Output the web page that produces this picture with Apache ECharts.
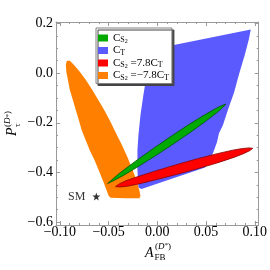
<!DOCTYPE html>
<html><head><meta charset="utf-8">
<script src="https://cdn.jsdelivr.net/npm/echarts@6/dist/echarts.min.js"></script>
<style>html,body{margin:0;padding:0;background:#fff}#c{width:270px;height:270px}</style>
</head><body><div id="c"></div>
<script>
// ---- data ----
const xRange = [-0.104, 0.104];
const yRange = [-0.612, 0.206];
const xMajorTicks = [-0.1, -0.05, 0, 0.05, 0.1];
const xMinorTicks = [-0.09, -0.08, -0.07, -0.06, -0.04, -0.03, -0.02, -0.01, 0.01, 0.02, 0.03, 0.04, 0.06, 0.07, 0.08, 0.09];
const yMajorTicks = [-0.6, -0.4, -0.2, 0, 0.2];
const yMinorTicks = [-0.55, -0.5, -0.45, -0.35, -0.3, -0.25, -0.15, -0.1, -0.05, 0.05, 0.1, 0.15];

// C_T allowed region (blue)
const ctRegion = [
  [-0.0071, 0.0945], [0.0959, 0.1757], [0.0939, 0.1351], [0.0898, 0.0742], [0.0837, -0.0069],
  [0.0786, -0.0799], [0.0724, -0.1489], [0.0673, -0.2097], [0.0633, -0.2422], [0.0612, -0.2787],
  [0.0571, -0.3233], [0.0531, -0.3517], [0.0490, -0.3801], [-0.0163, -0.4673], [-0.0194, -0.4613],
  [-0.0204, -0.3923], [-0.0204, -0.3112], [-0.0194, -0.2503], [-0.0173, -0.1692], [-0.0143, -0.0880],
  [-0.0112, -0.0150], [-0.0092, 0.0458]
];
// C_S2 = -7.8 C_T region (orange)
const cs2MinusRegion = [
  [-0.0929, 0.0499], [-0.0898, 0.0499], [-0.0857, 0.0337], [-0.0796, 0.0053], [-0.0735, -0.0272],
  [-0.0673, -0.0637], [-0.0612, -0.1043], [-0.0551, -0.1448], [-0.0490, -0.1894], [-0.0429, -0.2381],
  [-0.0367, -0.2868], [-0.0306, -0.3395], [-0.0255, -0.3882], [-0.0214, -0.4329], [-0.0184, -0.4734],
  [-0.0173, -0.4937], [-0.0184, -0.5039], [-0.0337, -0.5039], [-0.0480, -0.5018], [-0.0500, -0.4937],
  [-0.0520, -0.4734], [-0.0551, -0.4410], [-0.0592, -0.4004], [-0.0643, -0.3517], [-0.0694, -0.3112],
  [-0.0735, -0.2706], [-0.0776, -0.2300], [-0.0806, -0.1894], [-0.0837, -0.1489], [-0.0867, -0.1083],
  [-0.0898, -0.0677], [-0.0918, -0.0272], [-0.0934, 0.0053], [-0.0939, 0.0337]
];
// C_S2 region (green)
const cs2Region = [
  [-0.0510, -0.4450], [-0.0455, -0.4256], [-0.0376, -0.3998], [-0.0224, -0.3548], [-0.0045, -0.3047],
  [0.0136, -0.2559], [0.0319, -0.2085], [0.0469, -0.1721], [0.0596, -0.1434], [0.0662, -0.1308],
  [0.0704, -0.1245], [0.0673, -0.1375], [0.0618, -0.1570], [0.0502, -0.1924], [0.0360, -0.2329],
  [0.0179, -0.2816], [-0.0004, -0.3290], [-0.0190, -0.3751], [-0.0353, -0.4133], [-0.0444, -0.4324]
];
// C_S2 = 7.8 C_T region (red)
const cs2PlusRegion = [
  [-0.0429, -0.4572], [-0.0391, -0.4463], [-0.0323, -0.4339], [-0.0213, -0.4185], [-0.0018, -0.3941],
  [0.0192, -0.3695], [0.0403, -0.3459], [0.0616, -0.3244], [0.0773, -0.3105], [0.0874, -0.3037],
  [0.0941, -0.3014], [0.0980, -0.3030], [0.0948, -0.3124], [0.0888, -0.3240], [0.0792, -0.3387],
  [0.0639, -0.3588], [0.0429, -0.3835], [0.0218, -0.4062], [0.0006, -0.4278], [-0.0193, -0.4466],
  [-0.0308, -0.4558], [-0.0382, -0.4588]
];
const smPoint = [[-0.0626, -0.497]];
const legendNames = ['CS2', 'CT', 'CS2p', 'CS2m'];
const legendRich = {
  CS2: '{c|C}{s|S}{ss|2}',
  CT: '{c|C}{s|T}',
  CS2p: '{c|C}{s|S}{ss|2}{c| =7.8C}{s|T}',
  CS2m: '{c|C}{s|S}{ss|2}{c| =\u22127.8C}{s|T}'
};

// ---- chart ----
const SERIF = 'Liberation Serif';
const FRAME = '#9a9a9a';
const fmtX = v => (v < -1e-9 ? '\u2212' : '') + Math.abs(v).toFixed(2);
const fmtY = v => (v < -1e-9 ? '\u2212' : '') + Math.abs(v).toFixed(1);

function xAx(pos, ticks, len, withLabel, lineShow) {
  return {
    type: 'value', position: pos, min: xRange[0], max: xRange[1],
    axisLine: { show: lineShow, onZero: false, lineStyle: { color: FRAME, width: 1 } },
    splitLine: { show: false },
    axisTick: { show: true, inside: true, length: len, customValues: ticks, lineStyle: { color: FRAME, width: 1 } },
    axisLabel: withLabel ? { show: true, customValues: ticks, formatter: fmtX, color: '#000', fontFamily: SERIF, fontSize: 14, margin: 0 } : { show: false }
  };
}
function yAx(pos, ticks, len, withLabel, lineShow) {
  return {
    type: 'value', position: pos, min: yRange[0], max: yRange[1],
    axisLine: { show: lineShow, onZero: false, lineStyle: { color: FRAME, width: 1 } },
    splitLine: { show: false },
    axisTick: { show: true, inside: true, length: len, customValues: ticks, lineStyle: { color: FRAME, width: 1 } },
    axisLabel: withLabel ? { show: true, customValues: ticks, formatter: fmtY, color: '#000', fontFamily: SERIF, fontSize: 14, margin: 3 } : { show: false }
  };
}
function polySeries(name, pts, fill, stroke, lw) {
  return {
    type: 'custom', name: name, coordinateSystem: 'cartesian2d', xAxisIndex: 0, yAxisIndex: 0,
    data: pts,
    itemStyle: { color: fill },
    animation: false, silent: true,
    renderItem: function (params, api) {
      if (params.dataIndex !== 0) return null;
      return {
        type: 'polygon',
        shape: { points: pts.map(p => api.coord(p)) },
        style: { fill: fill, stroke: stroke || null, lineWidth: lw || 0 }
      };
    }
  };
}

const chart = echarts.init(document.getElementById('c'), null, { renderer: 'canvas' });
chart.setOption({
  animation: false,
  backgroundColor: '#fff',
  grid: { left: 56, right: 10, top: 22, bottom: 45, containLabel: false },
  xAxis: [
    xAx('bottom', xMajorTicks, 4, true, true),
    xAx('bottom', xMinorTicks, 2, false, false),
    xAx('top', xMajorTicks, 4, false, true),
    xAx('top', xMinorTicks, 2, false, false)
  ],
  yAxis: [
    yAx('left', yMajorTicks, 4, true, true),
    yAx('left', yMinorTicks, 2, false, false),
    yAx('right', yMajorTicks, 4, false, true),
    yAx('right', yMinorTicks, 2, false, false)
  ],
  legend: {
    show: true, orient: 'vertical', left: 96, top: 28,
    data: legendNames,
    icon: 'rect', itemWidth: 10, itemHeight: 7, itemGap: 0.5,
    padding: [4, 3, 2, 2],
    backgroundColor: '#fff', borderColor: '#808080', borderWidth: 1,
    shadowColor: '#444', shadowBlur: 0, shadowOffsetX: 2, shadowOffsetY: 2,
    selectedMode: false,
    formatter: n => legendRich[n],
    textStyle: {
      fontFamily: SERIF, color: '#000', fontSize: 11,
      rich: {
        c: { fontFamily: SERIF, fontSize: 11, lineHeight: 11, color: '#000' },
        s: { fontFamily: SERIF, fontSize: 8, lineHeight: 7, padding: [4, 0, 0, 0], color: '#000' },
        ss: { fontFamily: SERIF, fontSize: 6, lineHeight: 5, padding: [6, 0, 0, 0], color: '#000' }
      }
    }
  },
  series: [
    polySeries('CT', ctRegion, '#5a5aff', null, 0),
    polySeries('CS2m', cs2MinusRegion, '#ff8000', null, 0),
    polySeries('CS2', cs2Region, '#00aa00', '#005500', 0.8),
    polySeries('CS2p', cs2PlusRegion, '#ff0000', '#8b0000', 0.8),
    {
      type: 'scatter', name: 'SM', data: smPoint, xAxisIndex: 0, yAxisIndex: 0,
      symbol: 'path://M0,-10L2.35,-3.24L9.51,-3.09L3.8,1.24L5.88,8.09L0,4L-5.88,8.09L-3.8,1.24L-9.51,-3.09L-2.35,-3.24Z',
      symbolSize: 8, itemStyle: { color: '#000' }, silent: true,
      label: { show: true, position: 'left', distance: 7, formatter: 'SM', color: '#000', fontFamily: SERIF, fontSize: 12 }
    }
  ],
  graphic: [
    { type: 'text', left: 145, top: 246, style: { text: 'A', font: 'italic 14px "Liberation Serif"', fill: '#000' } },
    { type: 'text', left: 154.5, top: 253, style: { text: 'FB', font: '9px "Liberation Serif"', fill: '#000' } },
    { type: 'text', left: 155, top: 242, style: { text: '({i|D}{st|*})', font: '9px "Liberation Serif"', fill: '#000',
        rich: { i: { fontFamily: SERIF, fontSize: 9, fontStyle: 'italic' }, st: { fontFamily: SERIF, fontSize: 7, verticalAlign: 'top' } } } },
    {
      type: 'group', x: 17, y: 136, rotation: Math.PI / 2,
      children: [
        { type: 'text', x: 0, y: -5, style: { text: 'P', font: 'italic 14px "Liberation Serif"', fill: '#000', verticalAlign: 'middle', align: 'left' } },
        { type: 'text', x: 9, y: -9, style: { text: '({i|D}{st|*})', font: '9px "Liberation Serif"', fill: '#000', verticalAlign: 'middle', align: 'left',
            rich: { i: { fontFamily: SERIF, fontSize: 9, fontStyle: 'italic' }, st: { fontFamily: SERIF, fontSize: 7 } } } },
        { type: 'text', x: 9, y: 1, style: { text: '\u03c4', font: '9px "Liberation Serif"', fill: '#000', verticalAlign: 'middle', align: 'left' } }
      ]
    }
  ]
});
</script>
</body></html>
